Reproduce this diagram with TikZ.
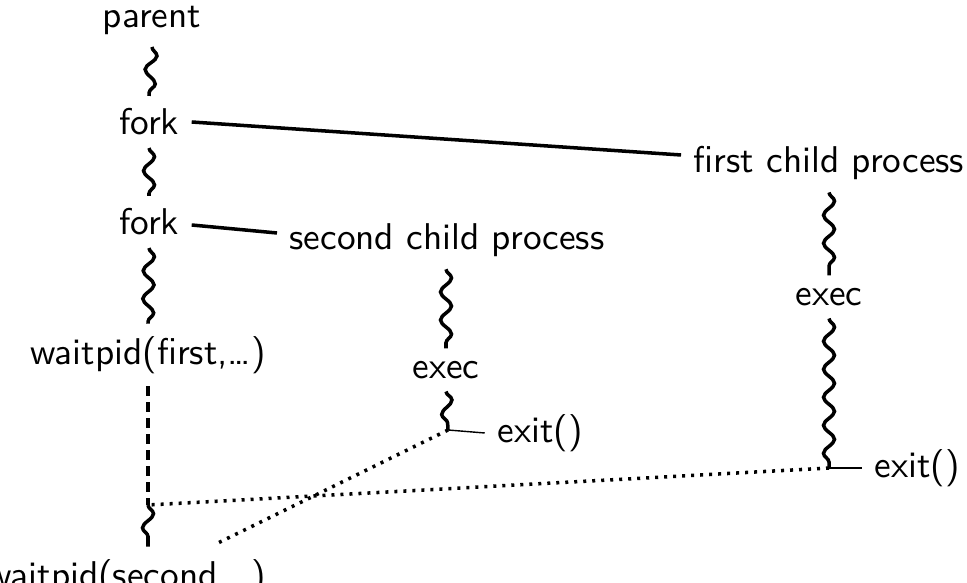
\documentclass[tikz,border=0pt]{standalone}
\usepackage{fontspec}
\usetikzlibrary{decorations.pathmorphing}

\begin{document}
\begin{tikzpicture}[x=0.01cm,y=-0.01cm,font=\fontsize{10.6}{12}\selectfont\sffamily,every node/.style={inner sep=0.12cm},run/.style={line width=1pt,decorate,decoration={snake,amplitude=0.055cm,segment length=0.28cm}},link/.style={line width=1pt},stop/.style={thin},wait/.style={line width=1pt,dash pattern=on 0.03cm off 0.06cm}]
\useasboundingbox (0,0) rectangle (967,583);
% parent
\node (parent) at (152,20) {parent};
\node (fork1) at (149,122) {fork};
\node (fork2) at (149,222) {fork};
\node (wait1) at (148,355) {waitpid(first,…)};
\node (wait2) at (126,578) {waitpid(second,…)};
\coordinate (join) at (148,505);
% children
\node (child1) at (829,163) {first child process};
\node (exec1) at (829,297) {exec};
\node (exit1) at (917,468) {exit()};
\coordinate (end1) at (829,468);
\node (child2) at (447,240) {second child process};
\node (exec2) at (446,370) {exec};
\node (exit2) at (540,433) {exit()};
\coordinate (end2) at (448,430);
\coordinate (lost) at (218,543);
% running
\draw[run] (parent.south) -- (fork1.north);
\draw[run] (fork1.south) -- (fork2.north);
\draw[run] (fork2.south) -- (wait1.north);
\draw[run] (join) -- (wait2.north -| join);
\draw[run] (child1.south) -- (exec1.north);
\draw[run] (exec1.south) -- (end1);
\draw[run] (child2.south -| exec2) -- (exec2.north);
\draw[run] (exec2.south) -- (end2);
% forks and exits
\draw[link] (fork1.east) -- ([yshift=0.08cm]child1.west);
\draw[link] ([yshift=-0.03cm]fork2.east) -- ([yshift=0.07cm]child2.west);
\draw[stop] (end1) -- (exit1.west);
\draw[stop] (end2) -- (exit2.west);
\draw[line width=1pt,dash pattern=on 0.1cm off 0.06cm] (wait1.south) -- (join);
\draw[wait] (end1) -- (join);
\draw[wait] (end2) -- (lost);
\end{tikzpicture}
\end{document}
